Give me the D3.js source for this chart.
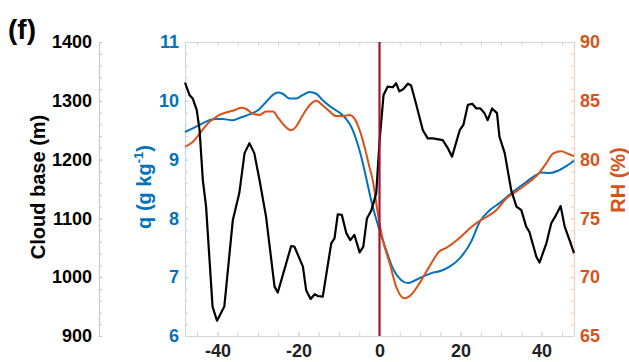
<!DOCTYPE html>
<html>
<head>
<meta charset="utf-8">
<script src="https://cdn.jsdelivr.net/npm/d3@7"></script>
<style>
  body { margin: 0; background: #fff; }
  svg { display: block; font-family: "Liberation Sans", Arial, sans-serif; }
  .tick text { font-weight: bold; font-size: 18px; }
</style>
</head>
<body>
<div id="chart"></div>
<script>
// cloud base (black, left axis)
const cbTime = [-48, -46.9, -46.1, -45.1, -44.4, -43.6, -42.8, -41.2, -40.1, -38.3, -36.2, -34.6, -33.3, -32.1, -30.9,
  -29.6, -28, -25.9, -25.1, -21.8, -21, -18.9, -18.1, -17, -16, -15.2, -14, -11.9, -11.1, -10.3, -9.3, -8.2, -7.2,
  -6.2, -4.9, -4, -3.1, -2, -0.8, 0, 1, 2, 3.3, 4.1, 4.9, 5.9, 7, 7.8, 9.1, 10.7, 11.9, 13.2, 15.6, 16.9, 17.9,
  19.8, 20.7, 21.8, 22.9, 23.9, 24.9, 25.9, 26.7, 27.8, 29, 29.6, 30.9, 32.5, 33.8, 35, 36.2, 37, 38.7, 39.5,
  41.2, 42.4, 43.6, 44.7, 45.7, 46.9, 48];
const cloudBase = [1331, 1310, 1304, 1284, 1250, 1165, 1120, 950, 926, 950, 1097, 1143, 1211, 1228, 1211,
  1165, 1103, 984, 974, 1053, 1052, 1018, 978, 963, 971, 968, 967, 1058, 1066, 1107, 1106, 1075, 1063,
  1072, 1042, 1052, 1100, 1114, 1143, 1230, 1310, 1324, 1323, 1330, 1316, 1320, 1329, 1326, 1293, 1250, 1236, 1236, 1233, 1219, 1205,
  1250, 1259, 1293, 1295, 1287, 1287, 1279, 1267, 1287, 1279, 1239, 1211, 1148, 1120, 1114, 1086, 1077, 1035, 1025,
  1058, 1092, 1106, 1121, 1086, 1063, 1041];

// specific humidity (blue)
const qTime = [-48, -46.1, -44.4, -42, -40.3, -38.7, -36.2, -34.1, -32.1, -30, -28, -26.3, -25.1, -23.9, -22.2,
  -20.6, -18.9, -17.3, -15.6, -14, -11.9, -9.9, -8.2, -7, -5.7, -4.5, -3.3, -1.7, 0, 1.65, 3.3, 5.4, 7, 8.6,
  10.7, 12.8, 15.2, 17.3, 19.8, 22.6, 24.7, 27.2, 29.6, 32.9, 36.2, 38.7, 39.9, 42, 44, 46.1, 48];
const qVals = [9.47, 9.53, 9.59, 9.67, 9.69, 9.69, 9.67, 9.72, 9.77, 9.84, 9.98, 10.1, 10.14, 10.12, 10.04,
  10.04, 10.1, 10.15, 10.12, 10.01, 9.89, 9.8, 9.69, 9.56, 9.33, 9.05, 8.69, 8.21, 7.8, 7.46, 7.15, 6.95, 6.9, 6.94,
  7.01, 7.07, 7.11, 7.18, 7.32, 7.6, 7.94, 8.14, 8.26, 8.45, 8.62, 8.74, 8.78, 8.77, 8.81, 8.89, 8.98];

// relative humidity (orange)
const rhTime = [-48, -46.1, -44.4, -42, -41.2, -39.5, -37.9, -35.8, -34.1, -32.9, -31.3, -29.6, -28, -26.3, -25.1,
  -23.5, -21.8, -20.6, -18.9, -17.3, -15.6, -14, -12.3, -10.7, -9.1, -7.4, -6.2, -4.9, -3.7, -2.5, -1.7, -0.4,
  0.8, 2.5, 4.1, 6.2, 7.8, 9.9, 12.3, 14.8, 16.5, 19.3, 21.8, 23.9, 26.3, 28.8, 31.3, 33.8, 36.2, 38.7, 41.2,
  42.8, 44.9, 46.5, 48];
const rhVals = [81.1, 81.5, 82.2, 83.2, 83.4, 83.8, 84, 84.2, 84.4, 84.3, 83.9, 83.8, 84.1, 84.1, 83.6,
  82.9, 82.5, 82.8, 83.8, 84.6, 85, 84.6, 84.1, 83.7, 83.7, 83.8, 83.5, 82.5, 81.1, 79.4, 78.3, 75.4,
  73.2, 71.2, 69.2, 68.2, 68.5, 69.5, 70.9, 72.2, 72.5, 73.2, 74, 74.6, 75.1, 75.7, 76.7, 77.3, 77.9, 78.6, 79.7,
  80.5, 80.7, 80.5, 80.3];

const xTicks = [-40, -20, 0, 20, 40];
const cbTicks = [900, 1000, 1100, 1200, 1300, 1400];
const qTicks = [6, 7, 8, 9, 10, 11];
const rhTicks = [65, 70, 75, 80, 85, 90];

const W = 629, H = 362;
const m = { left: 185, right: 574, top: 42, bottom: 336 };
const blue = "#0072BD", orange = "#D95319", red = "#A2142F";
const plain = d => String(d);

const svg = d3.select("#chart").append("svg")
  .attr("width", W).attr("height", H);

const x = d3.scaleLinear().domain([-48, 48]).range([m.left, m.right]);
const yCb = d3.scaleLinear().domain([900, 1400]).range([m.bottom, m.top]);
const yQ = d3.scaleLinear().domain([6, 11]).range([m.bottom, m.top]);
const yRh = d3.scaleLinear().domain([65, 90]).range([m.bottom, m.top]);

function minor(lo, hi, step) {
  const out = [];
  for (let v = lo; v <= hi + 1e-9; v += step) out.push(+v.toFixed(3));
  return out;
}

function styleAxis(g, col, lineCol) {
  g.selectAll(".domain").attr("stroke", lineCol).attr("stroke-width", 1);
  g.selectAll(".tick line").attr("stroke", lineCol);
  g.selectAll(".tick text").attr("fill", col);
}

// cloud base axis, detached on the far left
const gCb = svg.append("g").attr("transform", "translate(99,0)")
  .call(d3.axisLeft(yCb).tickValues(cbTicks).tickFormat(plain).tickSizeInner(-3).tickSizeOuter(0).tickPadding(7));
gCb.append("g").call(d3.axisLeft(yCb).tickValues(minor(900, 1400, 20)).tickSize(-3).tickFormat(""));
styleAxis(gCb, "#000", "#c4c4c4");

// q axis on the plot's left edge
const gQ = svg.append("g").attr("transform", `translate(${m.left},0)`)
  .call(d3.axisLeft(yQ).tickValues(qTicks).tickFormat(plain).tickSizeInner(-3).tickSizeOuter(0).tickPadding(6));
gQ.append("g").call(d3.axisLeft(yQ).tickValues(minor(6, 11, 0.2)).tickSize(-3).tickFormat(""));
styleAxis(gQ, blue, "#bcd6ea");

// RH axis on the right
const gRh = svg.append("g").attr("transform", `translate(${m.right},0)`)
  .call(d3.axisRight(yRh).tickValues(rhTicks).tickFormat(plain).tickSizeInner(-3).tickSizeOuter(0).tickPadding(6));
gRh.append("g").call(d3.axisRight(yRh).tickValues(minor(65, 90, 1)).tickSize(-3).tickFormat(""));
styleAxis(gRh, orange, "#f2cbb5");

// x axis bottom and top
const gX = svg.append("g").attr("transform", `translate(0,${m.bottom})`)
  .call(d3.axisBottom(x).tickValues(xTicks).tickFormat(plain).tickSizeInner(-4).tickSizeOuter(0).tickPadding(8));
gX.append("g").call(d3.axisBottom(x).tickValues(minor(-45, 45, 5)).tickSize(-4).tickFormat(""));
styleAxis(gX, "#222", "#d4d4d4");

const gXt = svg.append("g").attr("transform", `translate(0,${m.top})`)
  .call(d3.axisTop(x).tickValues(minor(-45, 45, 5)).tickSize(-4).tickSizeOuter(0).tickFormat(""));
styleAxis(gXt, "#222", "#d4d4d4");

// lines
const plot = svg.append("g");

plot.append("path")
  .datum(qTime.map((t, i) => [t, qVals[i]]))
  .attr("fill", "none").attr("stroke", blue).attr("stroke-width", 2)
  .attr("d", d3.line().x(d => x(d[0])).y(d => yQ(d[1])).curve(d3.curveMonotoneX));

plot.append("path")
  .datum(rhTime.map((t, i) => [t, rhVals[i]]))
  .attr("fill", "none").attr("stroke", orange).attr("stroke-width", 2)
  .attr("d", d3.line().x(d => x(d[0])).y(d => yRh(d[1])).curve(d3.curveMonotoneX));

plot.append("path")
  .datum(cbTime.map((t, i) => [t, cloudBase[i]]))
  .attr("fill", "none").attr("stroke", "#000").attr("stroke-width", 2.2)
  .attr("stroke-linejoin", "round")
  .attr("d", d3.line().x(d => x(d[0])).y(d => yCb(d[1])));

plot.append("line")
  .attr("x1", x(0)).attr("x2", x(0)).attr("y1", m.top).attr("y2", m.bottom)
  .attr("stroke", red).attr("stroke-width", 2.2);

// axis titles
svg.append("text")
  .attr("transform", "translate(45,187) rotate(-90)")
  .attr("text-anchor", "middle")
  .attr("font-size", 20).attr("font-weight", "bold").attr("fill", "#000")
  .text("Cloud base (m)");

const qLabel = svg.append("text")
  .attr("transform", "translate(151,187) rotate(-90)")
  .attr("text-anchor", "middle")
  .attr("font-size", 20).attr("font-weight", "bold").attr("fill", blue);
qLabel.append("tspan").text("q (g kg");
qLabel.append("tspan").attr("dy", -8).attr("font-size", 13).text("-1");
qLabel.append("tspan").attr("dy", 8).text(")");

svg.append("text")
  .attr("transform", "translate(625,180) rotate(-90)")
  .attr("text-anchor", "middle")
  .attr("font-size", 20).attr("font-weight", "bold").attr("fill", orange)
  .text("RH (%)");

svg.append("text")
  .attr("x", 8).attr("y", 39)
  .attr("font-size", 28).attr("font-weight", "bold").attr("fill", "#000")
  .text("(f)");
</script>
</body>
</html>
